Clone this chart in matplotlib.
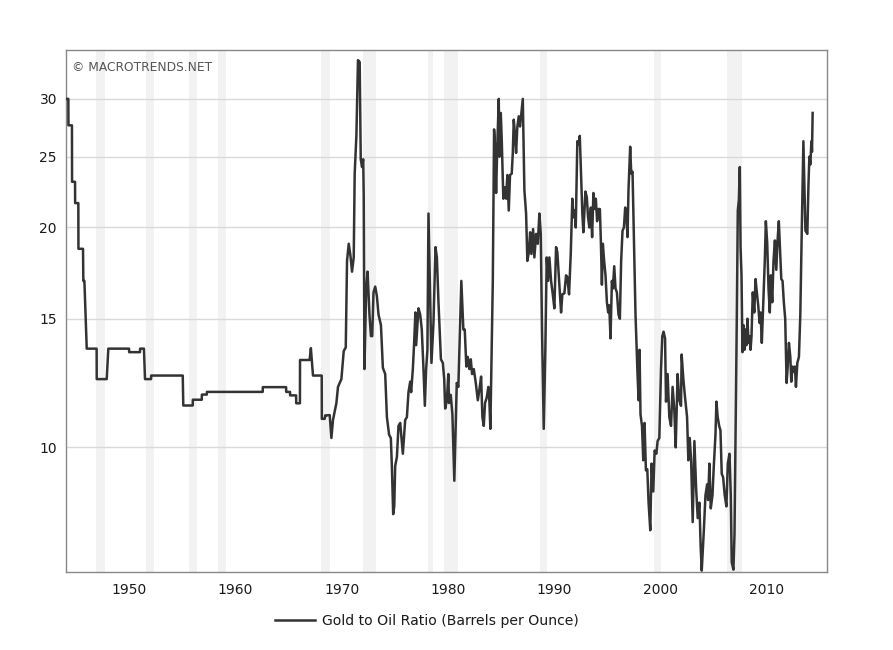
import matplotlib
matplotlib.use('Agg')
import matplotlib.pyplot as plt
from matplotlib.ticker import FixedLocator, NullLocator

# gold to oil ratio, barrels per ounce
years = [
    1944.14, 1944.29, 1944.30, 1944.63, 1944.64, 1944.92, 1944.93, 1945.23, 1945.24, 1945.67,
    1945.70, 1945.80, 1946.02, 1946.95, 1946.96, 1947.90, 1948.05, 1950.00, 1950.01, 1951.03,
    1951.04, 1951.40, 1951.50, 1952.07, 1952.08, 1955.05, 1955.10, 1955.99, 1956.00, 1956.84,
    1956.85, 1957.31, 1957.32, 1962.57, 1962.58, 1964.77, 1964.78, 1965.14, 1965.15, 1965.71,
    1965.72, 1966.07, 1966.08, 1966.98, 1967.10, 1967.30, 1968.12, 1968.13, 1968.40, 1968.45,
    1968.60, 1968.87, 1969.03, 1969.18, 1969.50, 1969.65, 1969.97, 1970.19, 1970.38, 1970.50,
    1970.66, 1970.82, 1970.97, 1971.13, 1971.22, 1971.38, 1971.53, 1971.69, 1971.79, 1971.91,
    1972.02, 1972.07, 1972.14, 1972.30, 1972.43, 1972.61, 1972.75, 1972.87, 1972.99, 1973.15,
    1973.31, 1973.46, 1973.69, 1973.87, 1974.09, 1974.25, 1974.46, 1974.62, 1974.72, 1974.84,
    1974.94, 1975.03, 1975.19, 1975.34, 1975.50, 1975.75, 1975.97, 1976.13, 1976.28, 1976.44,
    1976.53, 1976.69, 1976.81, 1976.93, 1977.00, 1977.12, 1977.22, 1977.38, 1977.53, 1977.68,
    1977.82, 1977.94, 1978.06, 1978.16, 1978.29, 1978.44, 1978.63, 1978.82, 1978.95, 1979.10,
    1979.33, 1979.51, 1979.64, 1979.73, 1979.89, 1980.03, 1980.09, 1980.25, 1980.41, 1980.59,
    1980.82, 1980.97, 1981.25, 1981.44, 1981.57, 1981.72, 1981.85, 1982.00, 1982.14, 1982.26,
    1982.42, 1982.61, 1982.80, 1982.95, 1983.11, 1983.23, 1983.36, 1983.48, 1983.64, 1983.79,
    1983.89, 1983.98, 1984.21, 1984.33, 1984.42, 1984.52, 1984.64, 1984.77, 1984.83, 1984.96,
    1985.05, 1985.20, 1985.36, 1985.46, 1985.58, 1985.71, 1985.83, 1985.99, 1986.09, 1986.18,
    1986.27, 1986.40, 1986.52, 1986.65, 1986.77, 1986.90, 1987.03, 1987.18, 1987.34, 1987.46,
    1987.60, 1987.72, 1987.84, 1988.00, 1988.12, 1988.28, 1988.44, 1988.59, 1988.72, 1988.84,
    1989.00, 1989.15, 1989.28, 1989.41, 1989.53, 1989.69, 1989.85, 1990.00, 1990.16, 1990.28,
    1990.44, 1990.63, 1990.75, 1990.94, 1991.10, 1991.22, 1991.38, 1991.54, 1991.69, 1991.79,
    1991.92, 1992.01, 1992.16, 1992.29, 1992.39, 1992.51, 1992.63, 1992.73, 1992.82, 1992.92,
    1993.05, 1993.17, 1993.29, 1993.43, 1993.55, 1993.67, 1993.81, 1993.90, 1994.02, 1994.15,
    1994.28, 1994.37, 1994.47, 1994.56, 1994.68, 1994.81, 1994.94, 1995.06, 1995.16, 1995.28,
    1995.41, 1995.50, 1995.63, 1995.75, 1995.88, 1996.03, 1996.16, 1996.28, 1996.41, 1996.54,
    1996.66, 1996.75, 1996.88, 1996.97, 1997.13, 1997.23, 1997.35, 1997.51, 1997.63, 1997.82,
    1997.92, 1998.01, 1998.10, 1998.24, 1998.36, 1998.48, 1998.61, 1998.74, 1998.86, 1999.02,
    1999.14, 1999.30, 1999.43, 1999.59, 1999.71, 1999.87, 2000.03, 2000.15, 2000.27, 2000.41,
    2000.50, 2000.65, 2000.81, 2000.97, 2001.12, 2001.28, 2001.41, 2001.59, 2001.75, 2001.91,
    2001.97, 2002.13, 2002.29, 2002.48, 2002.60, 2002.73, 2002.86, 2003.01, 2003.17, 2003.33,
    2003.48, 2003.64, 2003.76, 2003.86, 2004.05, 2004.21, 2004.37, 2004.46, 2004.58, 2004.71,
    2004.87, 2004.99, 2005.15, 2005.24, 2005.36, 2005.50, 2005.62, 2005.74, 2005.87, 2006.02,
    2006.18, 2006.31, 2006.47, 2006.59, 2006.68, 2006.84, 2006.94, 2007.06, 2007.16, 2007.25,
    2007.35, 2007.44, 2007.51, 2007.60, 2007.69, 2007.79, 2007.88, 2007.98, 2008.07, 2008.16,
    2008.26, 2008.35, 2008.45, 2008.54, 2008.66, 2008.80, 2008.92, 2009.04, 2009.17, 2009.30,
    2009.39, 2009.51, 2009.67, 2009.79, 2009.89, 2010.02, 2010.14, 2010.26, 2010.36, 2010.49,
    2010.61, 2010.74, 2010.87, 2010.99, 2011.11, 2011.21, 2011.34, 2011.46, 2011.58, 2011.71,
    2011.84, 2011.93, 2012.06, 2012.19, 2012.28, 2012.40, 2012.53, 2012.62, 2012.72, 2012.85,
    2013.00, 2013.13, 2013.26, 2013.42, 2013.54, 2013.61, 2013.79, 2013.89, 2013.98, 2014.08,
    2014.17, 2014.23, 2014.29,
]
ratio = [
    30.0, 30.0, 27.6, 27.6, 23.1, 23.1, 21.6, 21.6, 18.7, 18.7,
    16.9, 16.9, 13.65, 13.65, 12.4, 12.4, 13.65, 13.65, 13.5, 13.5,
    13.65, 13.65, 12.4, 12.4, 12.54, 12.54, 11.41, 11.41, 11.62, 11.62,
    11.81, 11.81, 11.91, 11.91, 12.09, 12.09, 11.91, 11.91, 11.78, 11.78,
    11.49, 11.49, 13.17, 13.17, 13.67, 12.54, 12.54, 10.94, 10.94, 11.06,
    11.06, 11.07, 10.3, 10.9, 11.5, 12.1, 12.4, 13.55, 13.7, 18.0,
    19.0, 18.3, 17.4, 18.2, 23.7, 26.7, 33.9, 33.7, 24.8, 24.2,
    24.8, 22.1, 12.8, 16.5, 17.4, 15.2, 14.2, 14.2, 16.3, 16.6,
    16.1, 15.2, 14.7, 12.85, 12.6, 11.0, 10.4, 10.3, 9.4, 8.1,
    8.3, 9.43, 9.7, 10.7, 10.8, 9.8, 10.9, 11.0, 11.9, 12.3,
    11.9, 12.8, 13.9, 15.3, 13.8, 14.7, 15.5, 15.2, 14.5, 12.9,
    11.4, 12.8, 13.6, 20.9, 16.9, 13.05, 14.8, 18.8, 18.2, 15.8,
    13.2, 13.05, 12.4, 11.3, 11.6, 12.6, 11.5, 11.8, 11.1, 9.0,
    12.25, 12.1, 16.9, 14.5, 14.5, 12.9, 13.3, 12.8, 13.2, 12.6,
    12.8, 12.25, 11.6, 12.0, 12.5, 11.0, 10.7, 11.5, 11.7, 12.1,
    11.55, 10.6, 16.9, 27.25, 25.8, 22.3, 26.1, 30.0, 25.0, 28.7,
    26.4, 21.9, 22.7, 21.9, 23.6, 21.1, 23.6, 23.7, 25.3, 28.1,
    27.1, 25.3, 27.5, 28.4, 27.5, 28.7, 30.0, 22.5, 20.9, 18.0,
    18.5, 19.7, 18.4, 19.9, 18.2, 19.6, 19.0, 20.9, 19.6, 14.4,
    10.6, 13.6, 18.2, 16.9, 18.2, 16.9, 16.2, 15.5, 18.8, 18.5,
    17.0, 15.3, 16.2, 16.25, 17.2, 17.1, 16.2, 18.4, 21.9, 20.65,
    21.1, 20.0, 26.25, 25.98, 26.7, 23.7, 20.9, 19.7, 20.9, 22.4,
    22.0, 20.65, 20.0, 21.3, 19.4, 22.3, 21.2, 21.9, 20.4, 21.2,
    21.2, 19.2, 16.7, 19.0, 18.0, 17.2, 15.8, 15.3, 15.65, 14.1,
    16.9, 16.5, 17.7, 16.5, 16.3, 15.2, 15.0, 18.0, 19.8, 20.0,
    21.3, 21.1, 19.4, 22.5, 25.8, 23.7, 23.85, 18.4, 15.2, 12.6,
    11.6, 13.6, 11.1, 10.7, 9.6, 10.8, 9.3, 9.33, 8.4, 7.7,
    9.5, 8.7, 9.9, 9.8, 10.2, 10.3, 12.8, 14.2, 14.4, 14.1,
    11.55, 12.6, 11.0, 10.7, 12.1, 11.25, 10.0, 12.6, 11.6, 11.4,
    13.4, 12.4, 11.7, 11.0, 9.6, 10.3, 9.6, 7.9, 10.2, 8.8,
    8.0, 8.4, 7.3, 6.78, 7.66, 8.6, 8.9, 8.47, 9.5, 8.25,
    8.6, 9.4, 10.4, 11.55, 11.0, 10.7, 10.55, 9.2, 9.1, 8.6,
    8.3, 9.5, 9.8, 8.6, 6.96, 6.8, 7.6, 11.0, 15.2, 21.1,
    21.8, 24.2, 18.8, 17.2, 13.5, 14.7, 13.6, 14.5, 13.8, 15.0,
    13.9, 14.2, 13.6, 14.2, 16.3, 15.3, 17.0, 16.3, 15.65, 14.8,
    15.3, 13.9, 16.2, 18.0, 20.4, 19.0, 16.5, 15.3, 17.2, 15.8,
    18.0, 19.2, 17.5, 19.2, 20.4, 18.8, 17.0, 16.9, 15.8, 15.0,
    12.25, 12.8, 13.9, 13.3, 12.3, 12.9, 12.7, 12.9, 12.1, 13.05,
    13.3, 15.2, 19.6, 26.25, 22.0, 19.8, 19.6, 22.7, 25.0, 24.4,
    26.25, 25.4, 28.7,
]

# shaded recession bands (start, end) as placed on the chart
recessions = [
    (1946.86, 1947.74), (1951.60, 1952.38), (1955.67, 1956.37), (1958.34, 1959.12),
    (1968.06, 1968.90), (1971.98, 1973.23), (1978.15, 1978.62), (1979.63, 1980.98),
    (1988.66, 1989.35), (1999.40, 2000.03), (2006.21, 2007.65),
]

y_ticks = [10, 15, 20, 25, 30]
x_ticks = [1950, 1960, 1970, 1980, 1990, 2000, 2010]

plt.rcParams['font.family'] = ['DejaVu Sans']

fig = plt.figure(figsize=(8.93, 6.5), dpi=100)
ax = fig.add_axes([66/893, 78/650, 761/893, 522/650])

for a, b in recessions:
    ax.axvspan(a, b, color='#f2f2f2', lw=0, zorder=0)

ax.plot(years, ratio, color='#333333', lw=1.8, zorder=3,
        label='Gold to Oil Ratio (Barrels per Ounce)')

ax.set_yscale('log')
ax.set_ylim(6.75, 35.0)
ax.set_xlim(1944.07, 2015.64)
ax.yaxis.set_major_locator(FixedLocator(y_ticks))
ax.yaxis.set_minor_locator(NullLocator())
ax.set_yticklabels([str(t) for t in y_ticks])
ax.set_xticks(x_ticks)
ax.set_xticklabels([str(t) for t in x_ticks])
ax.grid(axis='y', color='#d9d9d9', lw=1, zorder=1)
ax.tick_params(length=0, labelsize=10, colors='#1a1a1a')
ax.tick_params(axis='y', pad=6.5)
ax.tick_params(axis='x', pad=8)
for s in ax.spines.values():
    s.set_color('#888888')
    s.set_linewidth(1)

ax.text(0.008, 0.978, '\u00a9 MACROTRENDS.NET', transform=ax.transAxes,
        fontsize=8.8, color='#555555', va='top', ha='left')

fig.legend(loc='center', bbox_to_anchor=(426.5/893, 29/650), frameon=False,
           fontsize=10.1, handlelength=2.9, handletextpad=0.45,
           labelcolor='#1a1a1a')

fig.savefig('out.png', dpi=100)
